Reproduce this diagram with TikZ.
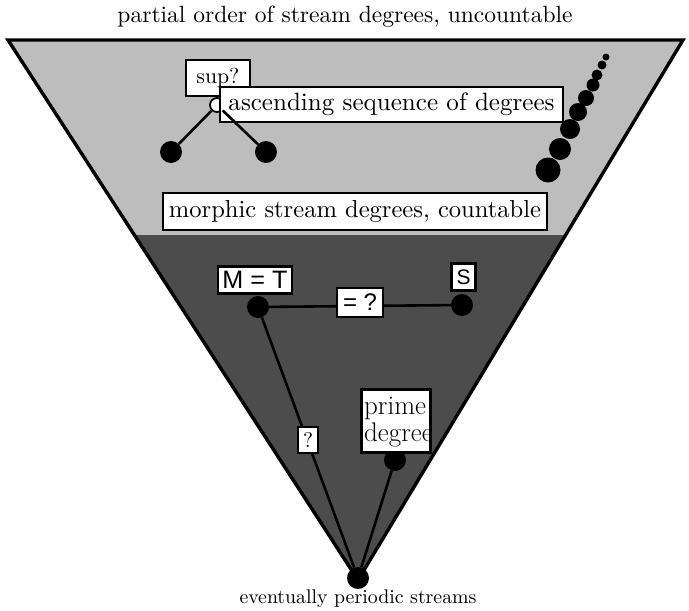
\documentclass[tikz,border=0pt]{standalone}
\usepackage{fontspec}
\usepackage{graphicx}
\newfontfamily\hv{Liberation Sans}
\newcommand{\fitw}[2]{\resizebox{#1}{!}{#2}}
\definecolor{lightreg}{gray}{0.74}
\definecolor{darkreg}{gray}{0.30}
\begin{document}
\begin{tikzpicture}[x=1pt,y=-1pt,
  box/.style={draw=black,line width=2.2pt,fill=white,inner sep=0pt},
  dot/.style={circle,fill=black,inner sep=0pt,minimum size=#1},
  conn/.style={line width=2.6pt,black},
  edge/.style={line width=3.4pt,line join=miter}]
\useasboundingbox (0,0) rectangle (689,611);
% regions
\coordinate (tl) at (8,40);
\coordinate (tr) at (683,40);
\coordinate (bt) at (358,580);
\fill[darkreg] (tl) -- (tr) -- (bt) -- cycle;
\begin{scope}
  \clip (0,0) rectangle (689,234);
  \fill[lightreg] (tl) -- (tr) -- (bt) -- cycle;
\end{scope}
\draw[edge] (tl) -- (tr) -- (bt) -- cycle;
% outer labels
\node (top) at (345,17) {\fitw{455pt}{partial order of stream degrees, uncountable}};
\node (bot) at (358,599) {\fitw{237pt}{eventually periodic streams}};
% upper region
\node[dot=22pt] (d1) at (171,152) {};
\node[dot=22pt] (d2) at (266,152) {};
\node[box,minimum width=64pt,minimum height=36pt] (sup) at (218,78) {\fitw{43pt}{sup?}};
\node[circle,draw=black,line width=1.8pt,fill=white,inner sep=0pt,minimum size=14pt] (wc) at (217,105) {};
\node[box,minimum width=343pt,minimum height=35pt] (asc) at (391.5,104.5) {\fitw{326pt}{ascending sequence of degrees}};
\draw[conn] (wc) -- (d1);
\draw[conn] (wc) -- (d2);
% chain of degrees
\foreach \x/\y/\s [count=\i] in {548/170/25, 560/149/22, 570/129/20, 578/112/18, 586/98/16, 593/85/13, 597/75/11, 602/65/9, 606/57/7}
  \node[dot=\s pt] (c\i) at (\x,\y) {};
\node[box,minimum width=384pt,minimum height=37pt] (mor) at (355,211.5) {\fitw{372pt}{morphic stream degrees, countable}};
% lower region
\node[dot=22pt] (mt) at (258,307) {};
\node[dot=22pt] (sd) at (462,305) {};
\node[dot=22pt] (pd) at (395,460) {};
\node[dot=22pt] (ap) at (358,578) {};
\draw[conn] (mt) -- (sd);
\draw[conn] (mt) -- (ap);
\draw[conn] (pd) -- (ap);
\node[box,minimum width=74pt,minimum height=27pt] (mtl) at (255,280) {\fitw{65pt}{\hv M = T}};
\node[box,minimum width=24pt,minimum height=27pt] (sl) at (463.5,277) {\fitw{14pt}{\hv S}};
\node[box,minimum width=46pt,minimum height=29pt] (eq) at (360,302.5) {\fitw{34pt}{\hv = ?}};
\node[box,minimum width=20pt,minimum height=26pt] (q) at (308,440) {\fitw{10pt}{?}};
\node[box,minimum width=68pt,minimum height=62pt] (pbox) at (396,421) {};
\begin{scope}
  \clip (362,390) rectangle (429,452);
  \node[anchor=base west,inner sep=0pt,font=\fontsize{27}{27}\selectfont] (p1) at (364,414) {prime};
  \node[anchor=base west,inner sep=0pt,font=\fontsize{27}{27}\selectfont] (p2) at (364,441) {degree};
\end{scope}
\draw[line width=2.2pt] (pbox.north west) rectangle (pbox.south east);
\end{tikzpicture}
\end{document}
